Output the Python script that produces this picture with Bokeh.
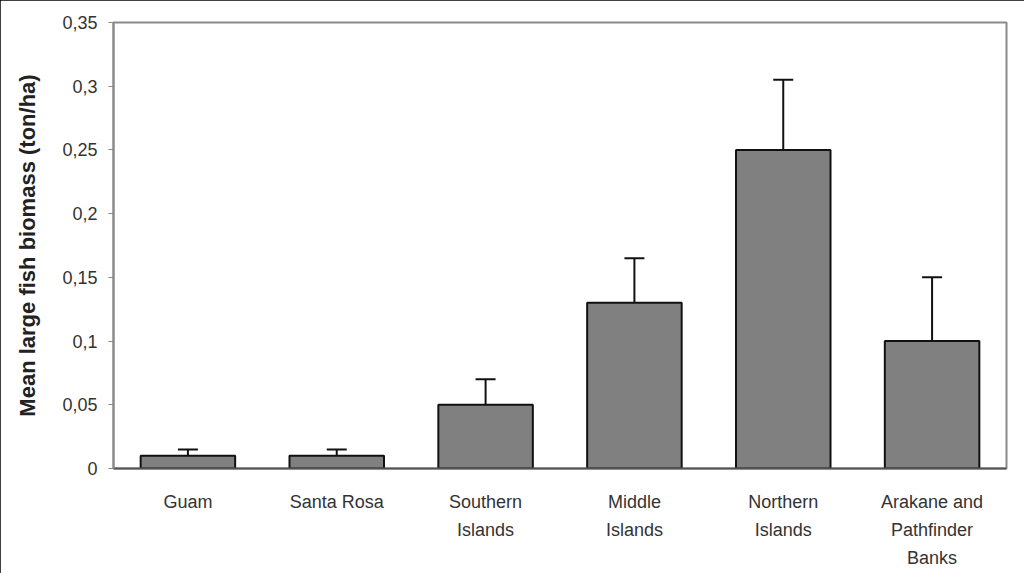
from bokeh.plotting import figure
from bokeh.models import Range1d, FixedTicker, Whisker, ColumnDataSource, TeeHead
from bokeh.embed import file_html
from bokeh.resources import INLINE

categories = ["Guam", "Santa Rosa", "Southern\nIslands", "Middle\nIslands",
              "Northern\nIslands", "Arakane and\nPathfinder\nBanks"]
biomass = [0.01, 0.01, 0.05, 0.13, 0.25, 0.10]
error = [0.005, 0.005, 0.02, 0.035, 0.055, 0.05]
y_ticks = [0, 0.05, 0.1, 0.15, 0.2, 0.25, 0.3, 0.35]
y_tick_labels = ["0", "0,05", "0,1", "0,15", "0,2", "0,25", "0,3", "0,35"]

upper = [b + e for b, e in zip(biomass, error)]
src = ColumnDataSource(dict(cat=categories, val=biomass, up=upper))

p = figure(x_range=categories, y_range=Range1d(0, 0.35),
           width=1024, height=573, output_backend="svg", toolbar_location=None,
           min_border_left=113, min_border_right=18, min_border_top=22, min_border_bottom=105)

p.vbar(x="cat", top="val", width=0.635, source=src,
       fill_color="#808080", line_color="#111111", line_width=2)

w = Whisker(base="cat", lower="val", upper="up", source=src,
            line_color="#111111", line_width=2,
            upper_head=TeeHead(size=20, line_color="#111111", line_width=2),
            lower_head=None)
p.add_layout(w)

p.xgrid.grid_line_color = None
p.ygrid.grid_line_color = None
p.outline_line_color = "#8a8a8a"
p.outline_line_width = 2

p.yaxis.ticker = FixedTicker(ticks=y_ticks)
p.yaxis.major_label_overrides = {t: l for t, l in zip(y_ticks, y_tick_labels)}
p.yaxis.axis_label = "Mean large fish biomass (ton/ha)"
p.yaxis.axis_label_text_font = "Liberation Sans"
p.yaxis.axis_label_text_font_style = "bold"
p.yaxis.axis_label_text_font_size = "22px"
p.yaxis.axis_label_text_color = "#222222"
p.yaxis.axis_label_standoff = 19
p.yaxis.major_label_text_font = "Liberation Sans"
p.yaxis.major_label_text_font_size = "18px"
p.yaxis.major_label_text_color = "#333333"
p.yaxis.major_label_standoff = 11
p.yaxis.major_tick_out = 5
p.yaxis.major_tick_in = 0
p.yaxis.minor_tick_line_color = None
p.yaxis.axis_line_color = "#8a8a8a"
p.yaxis.axis_line_width = 2
p.yaxis.major_tick_line_color = "#8a8a8a"

p.xaxis.major_label_text_font = "Liberation Sans"
p.xaxis.major_label_text_font_size = "18px"
p.xaxis.major_label_text_color = "#333333"
p.xaxis.major_label_text_line_height = 1.4
p.xaxis.major_label_standoff = 17
p.xaxis.major_tick_line_color = None
p.xaxis.axis_line_color = "#555555"
p.xaxis.axis_line_width = 2

p.styles = {"outline": "2px solid black", "outline-offset": "-2px"}

open("out.html", "w").write(file_html(p, INLINE))
